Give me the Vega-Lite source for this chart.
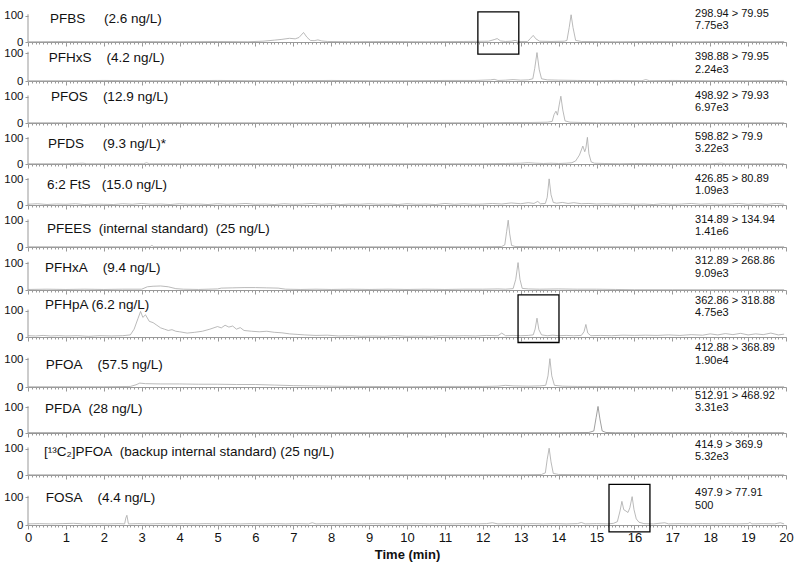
{
"$schema": "https://vega.github.io/schema/vega-lite/v6.json",
"padding": {"left": 3, "top": 5, "right": 3, "bottom": 5},
"bounds": "flush",
"spacing": 0,
"config": {
 "font": "Liberation Sans",
 "view": {"stroke": null, "continuousWidth": 758},
 "axisX": {"tickCount": 200, "grid": false, "domainColor": "#999", "tickColor": "#999", "tickSize": {"condition": {"test": "datum.value % 1 === 0", "value": 4}, "value": 2}, "labelExpr": "datum.value % 1 === 0 ? '' + datum.value : ''", "labelOverlap": false, "labelFlush": false, "labelFontSize": 13, "labelColor": "#111", "labelPadding": 2, "titleFontSize": 13, "titleFontWeight": "bold", "titleColor": "#111", "titlePadding": 4},
 "axisY": {"grid": false, "domain": false, "tickColor": "#999", "tickSize": {"condition": {"test": "datum.value === 0 || datum.value === 100", "value": 3}, "value": 2}, "labelExpr": "datum.value === 0 || datum.value === 100 ? datum.label : ''", "labelOverlap": false, "labelFontSize": 11.5, "labelColor": "#111", "labelPadding": 2}
},
"datasets": {
"pn": [
 {"p":1,"name":"PFBS\u00a0\u00a0\u00a0\u00a0\u00a0(2.6 ng/L)","mrm":"298.94 > 79.95","int":"7.75e3"},
 {"p":2,"name":"PFHxS\u00a0\u00a0\u00a0\u00a0(4.2 ng/L)","mrm":"398.88 > 79.95","int":"2.24e3"},
 {"p":3,"name":"PFOS\u00a0\u00a0\u00a0\u00a0(12.9 ng/L)","mrm":"498.92 > 79.93","int":"6.97e3"},
 {"p":4,"name":"PFDS\u00a0\u00a0\u00a0\u00a0\u00a0(9.3 ng/L)*","mrm":"598.82 > 79.9","int":"3.22e3"},
 {"p":5,"name":"6:2 FtS\u00a0\u00a0\u00a0(15.0 ng/L)","mrm":"426.85 > 80.89","int":"1.09e3"},
 {"p":6,"name":"PFEES\u00a0\u00a0(internal standard)\u00a0\u00a0(25 ng/L)","mrm":"314.89 > 134.94","int":"1.41e6"},
 {"p":7,"name":"PFHxA\u00a0\u00a0\u00a0\u00a0(9.4 ng/L)","mrm":"312.89 > 268.86","int":"9.09e3"},
 {"p":8,"name":"PFHpA (6.2 ng/L)","mrm":"362.86 > 318.88","int":"4.75e3"},
 {"p":9,"name":"PFOA\u00a0\u00a0\u00a0\u00a0(57.5 ng/L)","mrm":"412.88 > 368.89","int":"1.90e4"},
 {"p":10,"name":"PFDA\u00a0\u00a0(28 ng/L)","mrm":"512.91 > 468.92","int":"3.31e3"},
 {"p":11,"name":"[\u00b9\u00b3C\u2082]PFOA\u00a0\u00a0(backup internal standard) (25 ng/L)","mrm":"414.9 > 369.9","int":"5.32e3"},
 {"p":12,"name":"FOSA\u00a0\u00a0\u00a0\u00a0(4.4 ng/L)","mrm":"497.9 > 77.91","int":"500"}
],
"tr": [
{"p":1,"t":0,"y":1},{"p":1,"t":1,"y":2},{"p":1,"t":2,"y":1},{"p":1,"t":3,"y":2},{"p":1,"t":4,"y":1},{"p":1,"t":5,"y":2},{"p":1,"t":5.8,"y":1},{"p":1,"t":6.2,"y":3},{"p":1,"t":6.5,"y":7},{"p":1,"t":6.7,"y":10},{"p":1,"t":6.9,"y":14},{"p":1,"t":7.05,"y":12},{"p":1,"t":7.15,"y":17},{"p":1,"t":7.27,"y":36},{"p":1,"t":7.36,"y":18},{"p":1,"t":7.45,"y":6},{"p":1,"t":7.55,"y":5},{"p":1,"t":7.65,"y":8},{"p":1,"t":7.75,"y":4},{"p":1,"t":7.9,"y":2},{"p":1,"t":8.5,"y":1},{"p":1,"t":9.5,"y":2},{"p":1,"t":10.5,"y":1},{"p":1,"t":11.5,"y":2},{"p":1,"t":12.15,"y":3},{"p":1,"t":12.3,"y":9},{"p":1,"t":12.38,"y":13},{"p":1,"t":12.47,"y":4},{"p":1,"t":12.6,"y":2},{"p":1,"t":12.75,"y":3},{"p":1,"t":12.85,"y":6},{"p":1,"t":12.95,"y":2},{"p":1,"t":13.18,"y":2},{"p":1,"t":13.26,"y":14},{"p":1,"t":13.33,"y":25},{"p":1,"t":13.4,"y":12},{"p":1,"t":13.5,"y":3},{"p":1,"t":13.8,"y":2},{"p":1,"t":14.15,"y":3},{"p":1,"t":14.22,"y":6},{"p":1,"t":14.28,"y":55},{"p":1,"t":14.33,"y":103},{"p":1,"t":14.38,"y":55},{"p":1,"t":14.45,"y":6},{"p":1,"t":14.6,"y":2},{"p":1,"t":15.5,"y":1},{"p":1,"t":16.5,"y":2},{"p":1,"t":17.5,"y":1},{"p":1,"t":18.5,"y":2},{"p":1,"t":19.5,"y":1},{"p":1,"t":19.95,"y":2},
{"p":2,"t":0,"y":1},{"p":2,"t":1,"y":1},{"p":2,"t":2,"y":2},{"p":2,"t":3,"y":1},{"p":2,"t":4,"y":1},{"p":2,"t":5,"y":2},{"p":2,"t":6,"y":1},{"p":2,"t":7,"y":1},{"p":2,"t":8,"y":2},{"p":2,"t":9,"y":1},{"p":2,"t":10,"y":1},{"p":2,"t":11,"y":2},{"p":2,"t":11.8,"y":2},{"p":2,"t":12.2,"y":4},{"p":2,"t":12.3,"y":6},{"p":2,"t":12.4,"y":2},{"p":2,"t":12.6,"y":3},{"p":2,"t":12.8,"y":5},{"p":2,"t":13,"y":3},{"p":2,"t":13.2,"y":4},{"p":2,"t":13.32,"y":8},{"p":2,"t":13.37,"y":45},{"p":2,"t":13.43,"y":102},{"p":2,"t":13.49,"y":40},{"p":2,"t":13.55,"y":8},{"p":2,"t":13.7,"y":4},{"p":2,"t":14,"y":3},{"p":2,"t":14.5,"y":2},{"p":2,"t":15,"y":1},{"p":2,"t":15.5,"y":2},{"p":2,"t":16.2,"y":1},{"p":2,"t":16.3,"y":5},{"p":2,"t":16.4,"y":1},{"p":2,"t":17,"y":2},{"p":2,"t":18,"y":1},{"p":2,"t":19,"y":1},{"p":2,"t":19.95,"y":2},
{"p":3,"t":0,"y":1},{"p":3,"t":1,"y":1},{"p":3,"t":2,"y":1},{"p":3,"t":3,"y":1},{"p":3,"t":4,"y":2},{"p":3,"t":5,"y":1},{"p":3,"t":6,"y":1},{"p":3,"t":7,"y":1},{"p":3,"t":8,"y":1},{"p":3,"t":9,"y":2},{"p":3,"t":10,"y":1},{"p":3,"t":11,"y":1},{"p":3,"t":12,"y":1},{"p":3,"t":12.8,"y":2},{"p":3,"t":13.3,"y":2},{"p":3,"t":13.7,"y":3},{"p":3,"t":13.83,"y":6},{"p":3,"t":13.88,"y":32},{"p":3,"t":13.93,"y":45},{"p":3,"t":13.97,"y":30},{"p":3,"t":14.02,"y":72},{"p":3,"t":14.06,"y":102},{"p":3,"t":14.11,"y":50},{"p":3,"t":14.17,"y":8},{"p":3,"t":14.3,"y":3},{"p":3,"t":14.6,"y":2},{"p":3,"t":15,"y":1},{"p":3,"t":16,"y":1},{"p":3,"t":17,"y":2},{"p":3,"t":18,"y":1},{"p":3,"t":19,"y":1},{"p":3,"t":19.95,"y":1},
{"p":4,"t":0,"y":1},{"p":4,"t":1,"y":1},{"p":4,"t":1.45,"y":3},{"p":4,"t":1.55,"y":1},{"p":4,"t":2,"y":1},{"p":4,"t":3.05,"y":1},{"p":4,"t":3.13,"y":5},{"p":4,"t":3.2,"y":1},{"p":4,"t":4,"y":1},{"p":4,"t":5,"y":1},{"p":4,"t":6,"y":1},{"p":4,"t":7,"y":1},{"p":4,"t":8,"y":1},{"p":4,"t":9,"y":1},{"p":4,"t":10,"y":1},{"p":4,"t":11,"y":1},{"p":4,"t":12,"y":1},{"p":4,"t":12.6,"y":2},{"p":4,"t":13,"y":3},{"p":4,"t":13.2,"y":5},{"p":4,"t":13.4,"y":3},{"p":4,"t":13.6,"y":2},{"p":4,"t":13.8,"y":3},{"p":4,"t":14,"y":2},{"p":4,"t":14.2,"y":3},{"p":4,"t":14.35,"y":5},{"p":4,"t":14.45,"y":12},{"p":4,"t":14.55,"y":35},{"p":4,"t":14.64,"y":70},{"p":4,"t":14.69,"y":48},{"p":4,"t":14.72,"y":62},{"p":4,"t":14.76,"y":104},{"p":4,"t":14.8,"y":40},{"p":4,"t":14.86,"y":8},{"p":4,"t":14.95,"y":3},{"p":4,"t":15.2,"y":2},{"p":4,"t":15.6,"y":1},{"p":4,"t":16,"y":2},{"p":4,"t":17,"y":1},{"p":4,"t":18,"y":1},{"p":4,"t":18.3,"y":3},{"p":4,"t":18.4,"y":1},{"p":4,"t":19,"y":1},{"p":4,"t":19.95,"y":1},
{"p":5,"t":0,"y":3},{"p":5,"t":0.25,"y":5},{"p":5,"t":0.5,"y":2},{"p":5,"t":0.75,"y":4},{"p":5,"t":1,"y":3},{"p":5,"t":1.25,"y":5},{"p":5,"t":1.5,"y":2},{"p":5,"t":1.75,"y":4},{"p":5,"t":2,"y":3},{"p":5,"t":2.25,"y":2},{"p":5,"t":2.5,"y":5},{"p":5,"t":2.75,"y":3},{"p":5,"t":3,"y":6},{"p":5,"t":3.25,"y":3},{"p":5,"t":3.5,"y":4},{"p":5,"t":3.75,"y":2},{"p":5,"t":4,"y":5},{"p":5,"t":4.25,"y":3},{"p":5,"t":4.5,"y":4},{"p":5,"t":4.75,"y":2},{"p":5,"t":5,"y":5},{"p":5,"t":5.25,"y":3},{"p":5,"t":5.5,"y":4},{"p":5,"t":5.75,"y":6},{"p":5,"t":6,"y":3},{"p":5,"t":6.25,"y":4},{"p":5,"t":6.5,"y":2},{"p":5,"t":6.75,"y":5},{"p":5,"t":7,"y":3},{"p":5,"t":7.25,"y":4},{"p":5,"t":7.5,"y":6},{"p":5,"t":7.75,"y":3},{"p":5,"t":8,"y":5},{"p":5,"t":8.25,"y":2},{"p":5,"t":8.5,"y":4},{"p":5,"t":8.75,"y":3},{"p":5,"t":9,"y":5},{"p":5,"t":9.25,"y":3},{"p":5,"t":9.5,"y":4},{"p":5,"t":9.75,"y":2},{"p":5,"t":10,"y":5},{"p":5,"t":10.25,"y":3},{"p":5,"t":10.5,"y":4},{"p":5,"t":10.75,"y":2},{"p":5,"t":11,"y":6},{"p":5,"t":11.25,"y":3},{"p":5,"t":11.5,"y":5},{"p":5,"t":11.75,"y":3},{"p":5,"t":12,"y":4},{"p":5,"t":12.25,"y":6},{"p":5,"t":12.5,"y":4},{"p":5,"t":12.75,"y":8},{"p":5,"t":13,"y":5},{"p":5,"t":13.2,"y":9},{"p":5,"t":13.35,"y":6},{"p":5,"t":13.45,"y":14},{"p":5,"t":13.52,"y":5},{"p":5,"t":13.65,"y":6},{"p":5,"t":13.7,"y":30},{"p":5,"t":13.75,"y":102},{"p":5,"t":13.8,"y":40},{"p":5,"t":13.86,"y":10},{"p":5,"t":13.95,"y":7},{"p":5,"t":14.1,"y":10},{"p":5,"t":14.25,"y":6},{"p":5,"t":14.4,"y":9},{"p":5,"t":14.6,"y":5},{"p":5,"t":14.8,"y":6},{"p":5,"t":15,"y":4},{"p":5,"t":15.25,"y":5},{"p":5,"t":15.5,"y":3},{"p":5,"t":15.75,"y":5},{"p":5,"t":16,"y":3},{"p":5,"t":16.25,"y":4},{"p":5,"t":16.5,"y":2},{"p":5,"t":16.75,"y":5},{"p":5,"t":17,"y":3},{"p":5,"t":17.25,"y":4},{"p":5,"t":17.5,"y":6},{"p":5,"t":17.75,"y":3},{"p":5,"t":18,"y":5},{"p":5,"t":18.25,"y":3},{"p":5,"t":18.5,"y":4},{"p":5,"t":18.75,"y":6},{"p":5,"t":19,"y":3},{"p":5,"t":19.25,"y":5},{"p":5,"t":19.5,"y":3},{"p":5,"t":19.75,"y":6},{"p":5,"t":19.95,"y":3},
{"p":6,"t":0,"y":1},{"p":6,"t":1,"y":1},{"p":6,"t":2,"y":1},{"p":6,"t":3,"y":1},{"p":6,"t":3.22,"y":1},{"p":6,"t":3.27,"y":6},{"p":6,"t":3.32,"y":1},{"p":6,"t":4,"y":1},{"p":6,"t":5,"y":1},{"p":6,"t":6,"y":1},{"p":6,"t":7,"y":1},{"p":6,"t":8,"y":1},{"p":6,"t":9,"y":1},{"p":6,"t":10,"y":1},{"p":6,"t":11,"y":1},{"p":6,"t":12,"y":1},{"p":6,"t":12.5,"y":2},{"p":6,"t":12.58,"y":8},{"p":6,"t":12.63,"y":60},{"p":6,"t":12.67,"y":102},{"p":6,"t":12.71,"y":50},{"p":6,"t":12.76,"y":6},{"p":6,"t":12.85,"y":2},{"p":6,"t":13.5,"y":1},{"p":6,"t":14,"y":1},{"p":6,"t":15,"y":1},{"p":6,"t":16,"y":1},{"p":6,"t":17,"y":1},{"p":6,"t":18,"y":1},{"p":6,"t":19,"y":1},{"p":6,"t":19.95,"y":1},
{"p":7,"t":0,"y":2},{"p":7,"t":0.5,"y":3},{"p":7,"t":1,"y":2},{"p":7,"t":1.5,"y":3},{"p":7,"t":2,"y":2},{"p":7,"t":2.5,"y":3},{"p":7,"t":3,"y":3},{"p":7,"t":3.15,"y":12},{"p":7,"t":3.3,"y":14},{"p":7,"t":3.5,"y":15},{"p":7,"t":3.7,"y":12},{"p":7,"t":3.9,"y":5},{"p":7,"t":4.1,"y":3},{"p":7,"t":4.5,"y":2},{"p":7,"t":5,"y":4},{"p":7,"t":5.1,"y":7},{"p":7,"t":5.4,"y":8},{"p":7,"t":5.7,"y":9},{"p":7,"t":6,"y":9},{"p":7,"t":6.3,"y":8},{"p":7,"t":6.6,"y":7},{"p":7,"t":6.8,"y":3},{"p":7,"t":7.2,"y":2},{"p":7,"t":7.6,"y":3},{"p":7,"t":8,"y":2},{"p":7,"t":8.5,"y":3},{"p":7,"t":9,"y":2},{"p":7,"t":9.5,"y":3},{"p":7,"t":10,"y":2},{"p":7,"t":10.5,"y":3},{"p":7,"t":11,"y":2},{"p":7,"t":11.5,"y":3},{"p":7,"t":12,"y":3},{"p":7,"t":12.4,"y":4},{"p":7,"t":12.6,"y":3},{"p":7,"t":12.8,"y":5},{"p":7,"t":12.87,"y":40},{"p":7,"t":12.93,"y":102},{"p":7,"t":12.98,"y":40},{"p":7,"t":13.04,"y":6},{"p":7,"t":13.2,"y":4},{"p":7,"t":13.5,"y":3},{"p":7,"t":14,"y":4},{"p":7,"t":14.5,"y":3},{"p":7,"t":15,"y":3},{"p":7,"t":15.5,"y":2},{"p":7,"t":16,"y":1},{"p":7,"t":17,"y":1},{"p":7,"t":18,"y":1},{"p":7,"t":19,"y":1},{"p":7,"t":19.95,"y":1},
{"p":8,"t":0,"y":5},{"p":8,"t":0.2,"y":4},{"p":8,"t":0.4,"y":6},{"p":8,"t":0.6,"y":4},{"p":8,"t":0.8,"y":5},{"p":8,"t":1,"y":4},{"p":8,"t":1.3,"y":5},{"p":8,"t":1.6,"y":3},{"p":8,"t":1.9,"y":5},{"p":8,"t":2.2,"y":4},{"p":8,"t":2.5,"y":5},{"p":8,"t":2.7,"y":8},{"p":8,"t":2.8,"y":30},{"p":8,"t":2.9,"y":70},{"p":8,"t":2.97,"y":98},{"p":8,"t":3.03,"y":75},{"p":8,"t":3.1,"y":85},{"p":8,"t":3.2,"y":60},{"p":8,"t":3.3,"y":55},{"p":8,"t":3.4,"y":45},{"p":8,"t":3.5,"y":35},{"p":8,"t":3.6,"y":30},{"p":8,"t":3.7,"y":25},{"p":8,"t":3.8,"y":28},{"p":8,"t":3.9,"y":22},{"p":8,"t":4,"y":20},{"p":8,"t":4.2,"y":15},{"p":8,"t":4.4,"y":18},{"p":8,"t":4.6,"y":22},{"p":8,"t":4.8,"y":30},{"p":8,"t":5,"y":40},{"p":8,"t":5.1,"y":35},{"p":8,"t":5.2,"y":45},{"p":8,"t":5.3,"y":38},{"p":8,"t":5.4,"y":42},{"p":8,"t":5.5,"y":30},{"p":8,"t":5.6,"y":36},{"p":8,"t":5.7,"y":25},{"p":8,"t":5.9,"y":22},{"p":8,"t":6.1,"y":20},{"p":8,"t":6.3,"y":22},{"p":8,"t":6.5,"y":18},{"p":8,"t":6.7,"y":16},{"p":8,"t":6.9,"y":12},{"p":8,"t":7.1,"y":10},{"p":8,"t":7.3,"y":8},{"p":8,"t":7.6,"y":6},{"p":8,"t":7.9,"y":7},{"p":8,"t":8.2,"y":4},{"p":8,"t":8.5,"y":5},{"p":8,"t":8.8,"y":3},{"p":8,"t":9.1,"y":4},{"p":8,"t":9.4,"y":3},{"p":8,"t":9.7,"y":5},{"p":8,"t":10,"y":3},{"p":8,"t":10.3,"y":4},{"p":8,"t":10.6,"y":3},{"p":8,"t":10.9,"y":5},{"p":8,"t":11.2,"y":4},{"p":8,"t":11.5,"y":5},{"p":8,"t":11.8,"y":4},{"p":8,"t":12.1,"y":6},{"p":8,"t":12.4,"y":5},{"p":8,"t":12.5,"y":15},{"p":8,"t":12.6,"y":5},{"p":8,"t":12.8,"y":6},{"p":8,"t":13,"y":5},{"p":8,"t":13.2,"y":6},{"p":8,"t":13.33,"y":8},{"p":8,"t":13.38,"y":30},{"p":8,"t":13.43,"y":72},{"p":8,"t":13.48,"y":28},{"p":8,"t":13.55,"y":8},{"p":8,"t":13.7,"y":5},{"p":8,"t":13.85,"y":7},{"p":8,"t":14,"y":5},{"p":8,"t":14.2,"y":6},{"p":8,"t":14.4,"y":5},{"p":8,"t":14.6,"y":6},{"p":8,"t":14.67,"y":20},{"p":8,"t":14.72,"y":48},{"p":8,"t":14.77,"y":15},{"p":8,"t":14.85,"y":5},{"p":8,"t":15.1,"y":6},{"p":8,"t":15.4,"y":5},{"p":8,"t":15.7,"y":7},{"p":8,"t":16,"y":6},{"p":8,"t":16.3,"y":7},{"p":8,"t":16.6,"y":6},{"p":8,"t":16.9,"y":8},{"p":8,"t":17.2,"y":6},{"p":8,"t":17.5,"y":9},{"p":8,"t":17.8,"y":7},{"p":8,"t":18,"y":12},{"p":8,"t":18.2,"y":8},{"p":8,"t":18.4,"y":13},{"p":8,"t":18.6,"y":9},{"p":8,"t":18.8,"y":14},{"p":8,"t":19,"y":8},{"p":8,"t":19.2,"y":12},{"p":8,"t":19.4,"y":9},{"p":8,"t":19.6,"y":15},{"p":8,"t":19.8,"y":8},{"p":8,"t":19.95,"y":11},
{"p":9,"t":0,"y":1},{"p":9,"t":1,"y":1},{"p":9,"t":2,"y":1},{"p":9,"t":2.7,"y":2},{"p":9,"t":2.85,"y":8},{"p":9,"t":2.95,"y":14},{"p":9,"t":3.1,"y":12},{"p":9,"t":3.5,"y":11},{"p":9,"t":4,"y":11},{"p":9,"t":4.5,"y":10},{"p":9,"t":5,"y":10},{"p":9,"t":5.5,"y":9},{"p":9,"t":6,"y":9},{"p":9,"t":6.5,"y":7},{"p":9,"t":7,"y":5},{"p":9,"t":7.5,"y":4},{"p":9,"t":8,"y":3},{"p":9,"t":8.5,"y":2},{"p":9,"t":9,"y":2},{"p":9,"t":10,"y":1},{"p":9,"t":11,"y":2},{"p":9,"t":12,"y":2},{"p":9,"t":12.4,"y":3},{"p":9,"t":12.6,"y":6},{"p":9,"t":12.8,"y":4},{"p":9,"t":13.2,"y":3},{"p":9,"t":13.5,"y":4},{"p":9,"t":13.66,"y":6},{"p":9,"t":13.72,"y":40},{"p":9,"t":13.77,"y":102},{"p":9,"t":13.82,"y":40},{"p":9,"t":13.89,"y":6},{"p":9,"t":14.1,"y":3},{"p":9,"t":14.5,"y":2},{"p":9,"t":15,"y":2},{"p":9,"t":16,"y":1},{"p":9,"t":17,"y":1},{"p":9,"t":18,"y":1},{"p":9,"t":19,"y":1},{"p":9,"t":19.95,"y":1},
{"p":10,"t":0,"y":1},{"p":10,"t":1,"y":1},{"p":10,"t":2,"y":1},{"p":10,"t":3,"y":1},{"p":10,"t":4,"y":1},{"p":10,"t":5,"y":1},{"p":10,"t":6,"y":1},{"p":10,"t":7,"y":1},{"p":10,"t":8,"y":1},{"p":10,"t":9,"y":1},{"p":10,"t":10,"y":1},{"p":10,"t":11,"y":1},{"p":10,"t":12,"y":1},{"p":10,"t":13,"y":1},{"p":10,"t":14,"y":1},{"p":10,"t":14.8,"y":2},{"p":10,"t":14.93,"y":8},{"p":10,"t":14.99,"y":60},{"p":10,"t":15.04,"y":104},{"p":10,"t":15.09,"y":55},{"p":10,"t":15.15,"y":8},{"p":10,"t":15.25,"y":2},{"p":10,"t":15.5,"y":1},{"p":10,"t":16,"y":1},{"p":10,"t":17,"y":1},{"p":10,"t":18,"y":1},{"p":10,"t":18.52,"y":1},{"p":10,"t":18.57,"y":4},{"p":10,"t":18.62,"y":1},{"p":10,"t":19,"y":1},{"p":10,"t":19.95,"y":1},
{"p":11,"t":0,"y":1},{"p":11,"t":1,"y":1},{"p":11,"t":2,"y":1},{"p":11,"t":3,"y":1},{"p":11,"t":4,"y":1},{"p":11,"t":5,"y":1},{"p":11,"t":6,"y":1},{"p":11,"t":7,"y":1},{"p":11,"t":8,"y":1},{"p":11,"t":9,"y":1},{"p":11,"t":10,"y":1},{"p":11,"t":11,"y":1},{"p":11,"t":12,"y":1},{"p":11,"t":13,"y":1},{"p":11,"t":13.55,"y":2},{"p":11,"t":13.65,"y":8},{"p":11,"t":13.7,"y":60},{"p":11,"t":13.75,"y":102},{"p":11,"t":13.8,"y":50},{"p":11,"t":13.86,"y":6},{"p":11,"t":14,"y":2},{"p":11,"t":15,"y":1},{"p":11,"t":16,"y":1},{"p":11,"t":17,"y":1},{"p":11,"t":18,"y":1},{"p":11,"t":19,"y":1},{"p":11,"t":19.95,"y":1},
{"p":12,"t":0,"y":4},{"p":12,"t":0.3,"y":5},{"p":12,"t":0.6,"y":4},{"p":12,"t":0.9,"y":5},{"p":12,"t":1.2,"y":6},{"p":12,"t":1.5,"y":4},{"p":12,"t":1.8,"y":5},{"p":12,"t":2.1,"y":4},{"p":12,"t":2.4,"y":5},{"p":12,"t":2.55,"y":4},{"p":12,"t":2.58,"y":25},{"p":12,"t":2.61,"y":35},{"p":12,"t":2.65,"y":4},{"p":12,"t":2.9,"y":5},{"p":12,"t":3.2,"y":4},{"p":12,"t":3.5,"y":5},{"p":12,"t":3.8,"y":4},{"p":12,"t":4.1,"y":5},{"p":12,"t":4.4,"y":4},{"p":12,"t":4.7,"y":5},{"p":12,"t":5,"y":4},{"p":12,"t":5.3,"y":5},{"p":12,"t":5.6,"y":4},{"p":12,"t":5.9,"y":5},{"p":12,"t":6.2,"y":4},{"p":12,"t":6.5,"y":5},{"p":12,"t":6.8,"y":4},{"p":12,"t":7.1,"y":5},{"p":12,"t":7.4,"y":4},{"p":12,"t":7.5,"y":8},{"p":12,"t":7.6,"y":4},{"p":12,"t":7.9,"y":5},{"p":12,"t":8.2,"y":4},{"p":12,"t":8.5,"y":5},{"p":12,"t":8.8,"y":4},{"p":12,"t":9.1,"y":5},{"p":12,"t":9.4,"y":4},{"p":12,"t":9.7,"y":5},{"p":12,"t":10,"y":4},{"p":12,"t":10.3,"y":5},{"p":12,"t":10.6,"y":4},{"p":12,"t":10.9,"y":5},{"p":12,"t":11.2,"y":4},{"p":12,"t":11.5,"y":5},{"p":12,"t":11.8,"y":4},{"p":12,"t":12.1,"y":5},{"p":12,"t":12.25,"y":8},{"p":12,"t":12.4,"y":4},{"p":12,"t":12.7,"y":5},{"p":12,"t":13,"y":4},{"p":12,"t":13.3,"y":5},{"p":12,"t":13.6,"y":4},{"p":12,"t":13.9,"y":5},{"p":12,"t":14.2,"y":4},{"p":12,"t":14.5,"y":5},{"p":12,"t":14.6,"y":9},{"p":12,"t":14.7,"y":4},{"p":12,"t":15,"y":5},{"p":12,"t":15.3,"y":4},{"p":12,"t":15.45,"y":6},{"p":12,"t":15.55,"y":12},{"p":12,"t":15.62,"y":50},{"p":12,"t":15.67,"y":85},{"p":12,"t":15.72,"y":55},{"p":12,"t":15.78,"y":50},{"p":12,"t":15.83,"y":45},{"p":12,"t":15.88,"y":62},{"p":12,"t":15.94,"y":102},{"p":12,"t":15.99,"y":55},{"p":12,"t":16.05,"y":22},{"p":12,"t":16.12,"y":10},{"p":12,"t":16.25,"y":5},{"p":12,"t":16.5,"y":4},{"p":12,"t":16.8,"y":8},{"p":12,"t":16.9,"y":4},{"p":12,"t":17.2,"y":5},{"p":12,"t":17.5,"y":4},{"p":12,"t":17.8,"y":5},{"p":12,"t":18.1,"y":4},{"p":12,"t":18.4,"y":5},{"p":12,"t":18.7,"y":4},{"p":12,"t":19,"y":5},{"p":12,"t":19.05,"y":9},{"p":12,"t":19.1,"y":4},{"p":12,"t":19.4,"y":5},{"p":12,"t":19.7,"y":4},{"p":12,"t":19.85,"y":8},{"p":12,"t":19.95,"y":4}
]
},
"vconcat": [
{"height":37,"layer":[
 {"data":{"name":"tr"},"transform":[{"filter":"datum.p==1"}],"mark":{"type":"line","color":"#a8a8a8","strokeWidth":0.8},"encoding":{"x":{"field":"t","type":"quantitative","scale":{"domain":[0,20]},"axis":{"labels":false,"title":null}},"y":{"field":"y","type":"quantitative","scale":{"domain":[0,132]},"axis":{"values":[0,10,20,30,40,50,60,70,80,90,100],"title":null}}}},
 {"data":{"name":"pn"},"transform":[{"filter":"datum.p==1"}],"layer":[
  {"mark":{"type":"rule","color":"#999"},"encoding":{"x":{"datum":0},"y":{"datum":0},"y2":{"datum":105}}},
  {"mark":{"type":"text","align":"left","fontSize":13.5,"color":"#111"},"encoding":{"x":{"datum":0.58},"y":{"datum":86},"text":{"field":"name"}}},
  {"mark":{"type":"text","align":"left","fontSize":11,"color":"#111"},"encoding":{"x":{"datum":17.6},"y":{"datum":107},"text":{"field":"mrm"}}},
  {"mark":{"type":"text","align":"left","fontSize":11,"color":"#111"},"encoding":{"x":{"datum":17.6},"y":{"datum":61},"text":{"field":"int"}}},
  {"mark":{"type":"rect","filled":false,"color":"#000","strokeWidth":1.3},"encoding":{"x":{"datum":11.87},"x2":{"datum":12.95},"y":{"datum":114},"y2":{"datum":-46}}}
 ]}
]},
{"height":39,"layer":[
 {"data":{"name":"tr"},"transform":[{"filter":"datum.p==2"}],"mark":{"type":"line","color":"#a8a8a8","strokeWidth":0.8},"encoding":{"x":{"field":"t","type":"quantitative","scale":{"domain":[0,20]},"axis":{"labels":false,"title":null}},"y":{"field":"y","type":"quantitative","scale":{"domain":[0,139]},"axis":{"values":[0,10,20,30,40,50,60,70,80,90,100],"title":null}}}},
 {"data":{"name":"pn"},"transform":[{"filter":"datum.p==2"}],"layer":[
  {"mark":{"type":"rule","color":"#999"},"encoding":{"x":{"datum":0},"y":{"datum":0},"y2":{"datum":105}}},
  {"mark":{"type":"text","align":"left","fontSize":13.5,"color":"#111"},"encoding":{"x":{"datum":0.55},"y":{"datum":82},"text":{"field":"name"}}},
  {"mark":{"type":"text","align":"left","fontSize":11,"color":"#111"},"encoding":{"x":{"datum":17.6},"y":{"datum":86},"text":{"field":"mrm"}}},
  {"mark":{"type":"text","align":"left","fontSize":11,"color":"#111"},"encoding":{"x":{"datum":17.6},"y":{"datum":40},"text":{"field":"int"}}}
 ]}
]},
{"height":42,"layer":[
 {"data":{"name":"tr"},"transform":[{"filter":"datum.p==3"}],"mark":{"type":"line","color":"#a8a8a8","strokeWidth":0.8},"encoding":{"x":{"field":"t","type":"quantitative","scale":{"domain":[0,20]},"axis":{"labels":false,"title":null}},"y":{"field":"y","type":"quantitative","scale":{"domain":[0,150]},"axis":{"values":[0,10,20,30,40,50,60,70,80,90,100],"title":null}}}},
 {"data":{"name":"pn"},"transform":[{"filter":"datum.p==3"}],"layer":[
  {"mark":{"type":"rule","color":"#999"},"encoding":{"x":{"datum":0},"y":{"datum":0},"y2":{"datum":105}}},
  {"mark":{"type":"text","align":"left","fontSize":13.5,"color":"#111"},"encoding":{"x":{"datum":0.61},"y":{"datum":100},"text":{"field":"name"}}},
  {"mark":{"type":"text","align":"left","fontSize":11,"color":"#111"},"encoding":{"x":{"datum":17.6},"y":{"datum":104},"text":{"field":"mrm"}}},
  {"mark":{"type":"text","align":"left","fontSize":11,"color":"#111"},"encoding":{"x":{"datum":17.6},"y":{"datum":58},"text":{"field":"int"}}}
 ]}
]},
{"height":41,"layer":[
 {"data":{"name":"tr"},"transform":[{"filter":"datum.p==4"}],"mark":{"type":"line","color":"#a8a8a8","strokeWidth":0.8},"encoding":{"x":{"field":"t","type":"quantitative","scale":{"domain":[0,20]},"axis":{"labels":false,"title":null}},"y":{"field":"y","type":"quantitative","scale":{"domain":[0,146]},"axis":{"values":[0,10,20,30,40,50,60,70,80,90,100],"title":null}}}},
 {"data":{"name":"pn"},"transform":[{"filter":"datum.p==4"}],"layer":[
  {"mark":{"type":"rule","color":"#999"},"encoding":{"x":{"datum":0},"y":{"datum":0},"y2":{"datum":105}}},
  {"mark":{"type":"text","align":"left","fontSize":13.5,"color":"#111"},"encoding":{"x":{"datum":0.53},"y":{"datum":80},"text":{"field":"name"}}},
  {"mark":{"type":"text","align":"left","fontSize":11,"color":"#111"},"encoding":{"x":{"datum":17.6},"y":{"datum":104},"text":{"field":"mrm"}}},
  {"mark":{"type":"text","align":"left","fontSize":11,"color":"#111"},"encoding":{"x":{"datum":17.6},"y":{"datum":58},"text":{"field":"int"}}}
 ]}
]},
{"height":41,"layer":[
 {"data":{"name":"tr"},"transform":[{"filter":"datum.p==5"}],"mark":{"type":"line","color":"#a8a8a8","strokeWidth":0.8},"encoding":{"x":{"field":"t","type":"quantitative","scale":{"domain":[0,20]},"axis":{"labels":false,"title":null}},"y":{"field":"y","type":"quantitative","scale":{"domain":[0,146]},"axis":{"values":[0,10,20,30,40,50,60,70,80,90,100],"title":null}}}},
 {"data":{"name":"pn"},"transform":[{"filter":"datum.p==5"}],"layer":[
  {"mark":{"type":"rule","color":"#999"},"encoding":{"x":{"datum":0},"y":{"datum":0},"y2":{"datum":105}}},
  {"mark":{"type":"text","align":"left","fontSize":13.5,"color":"#111"},"encoding":{"x":{"datum":0.5},"y":{"datum":78},"text":{"field":"name"}}},
  {"mark":{"type":"text","align":"left","fontSize":11,"color":"#111"},"encoding":{"x":{"datum":17.6},"y":{"datum":100},"text":{"field":"mrm"}}},
  {"mark":{"type":"text","align":"left","fontSize":11,"color":"#111"},"encoding":{"x":{"datum":17.6},"y":{"datum":54},"text":{"field":"int"}}}
 ]}
]},
{"height":42,"layer":[
 {"data":{"name":"tr"},"transform":[{"filter":"datum.p==6"}],"mark":{"type":"line","color":"#a8a8a8","strokeWidth":0.8},"encoding":{"x":{"field":"t","type":"quantitative","scale":{"domain":[0,20]},"axis":{"labels":false,"title":null}},"y":{"field":"y","type":"quantitative","scale":{"domain":[0,150]},"axis":{"values":[0,10,20,30,40,50,60,70,80,90,100],"title":null}}}},
 {"data":{"name":"pn"},"transform":[{"filter":"datum.p==6"}],"layer":[
  {"mark":{"type":"rule","color":"#999"},"encoding":{"x":{"datum":0},"y":{"datum":0},"y2":{"datum":105}}},
  {"mark":{"type":"text","align":"left","fontSize":13.5,"color":"#111"},"encoding":{"x":{"datum":0.5},"y":{"datum":68},"text":{"field":"name"}}},
  {"mark":{"type":"text","align":"left","fontSize":11,"color":"#111"},"encoding":{"x":{"datum":17.6},"y":{"datum":104},"text":{"field":"mrm"}}},
  {"mark":{"type":"text","align":"left","fontSize":11,"color":"#111"},"encoding":{"x":{"datum":17.6},"y":{"datum":58},"text":{"field":"int"}}}
 ]}
]},
{"height":43,"layer":[
 {"data":{"name":"tr"},"transform":[{"filter":"datum.p==7"}],"mark":{"type":"line","color":"#a8a8a8","strokeWidth":0.8},"encoding":{"x":{"field":"t","type":"quantitative","scale":{"domain":[0,20]},"axis":{"labels":false,"title":null}},"y":{"field":"y","type":"quantitative","scale":{"domain":[0,154]},"axis":{"values":[0,10,20,30,40,50,60,70,80,90,100],"title":null}}}},
 {"data":{"name":"pn"},"transform":[{"filter":"datum.p==7"}],"layer":[
  {"mark":{"type":"rule","color":"#999"},"encoding":{"x":{"datum":0},"y":{"datum":0},"y2":{"datum":105}}},
  {"mark":{"type":"text","align":"left","fontSize":13.5,"color":"#111"},"encoding":{"x":{"datum":0.45},"y":{"datum":82},"text":{"field":"name"}}},
  {"mark":{"type":"text","align":"left","fontSize":11,"color":"#111"},"encoding":{"x":{"datum":17.6},"y":{"datum":107},"text":{"field":"mrm"}}},
  {"mark":{"type":"text","align":"left","fontSize":11,"color":"#111"},"encoding":{"x":{"datum":17.6},"y":{"datum":61},"text":{"field":"int"}}}
 ]}
]},
{"height":47,"layer":[
 {"data":{"name":"tr"},"transform":[{"filter":"datum.p==8"}],"mark":{"type":"line","color":"#a8a8a8","strokeWidth":0.8},"encoding":{"x":{"field":"t","type":"quantitative","scale":{"domain":[0,20]},"axis":{"labels":false,"title":null}},"y":{"field":"y","type":"quantitative","scale":{"domain":[0,168]},"axis":{"values":[0,10,20,30,40,50,60,70,80,90,100],"title":null}}}},
 {"data":{"name":"pn"},"transform":[{"filter":"datum.p==8"}],"layer":[
  {"mark":{"type":"rule","color":"#999"},"encoding":{"x":{"datum":0},"y":{"datum":0},"y2":{"datum":105}}},
  {"mark":{"type":"text","align":"left","fontSize":13.5,"color":"#111"},"encoding":{"x":{"datum":0.45},"y":{"datum":121},"text":{"field":"name"}}},
  {"mark":{"type":"text","align":"left","fontSize":11,"color":"#111"},"encoding":{"x":{"datum":17.6},"y":{"datum":139},"text":{"field":"mrm"}}},
  {"mark":{"type":"text","align":"left","fontSize":11,"color":"#111"},"encoding":{"x":{"datum":17.6},"y":{"datum":93},"text":{"field":"int"}}},
  {"mark":{"type":"rect","filled":false,"color":"#000","strokeWidth":1.3},"encoding":{"x":{"datum":12.93},"x2":{"datum":14.01},"y":{"datum":161},"y2":{"datum":-21}}}
 ]}
]},
{"height":50,"layer":[
 {"data":{"name":"tr"},"transform":[{"filter":"datum.p==9"}],"mark":{"type":"line","color":"#a8a8a8","strokeWidth":0.8},"encoding":{"x":{"field":"t","type":"quantitative","scale":{"domain":[0,20]},"axis":{"labels":false,"title":null}},"y":{"field":"y","type":"quantitative","scale":{"domain":[0,179]},"axis":{"values":[0,10,20,30,40,50,60,70,80,90,100],"title":null}}}},
 {"data":{"name":"pn"},"transform":[{"filter":"datum.p==9"}],"layer":[
  {"mark":{"type":"rule","color":"#999"},"encoding":{"x":{"datum":0},"y":{"datum":0},"y2":{"datum":105}}},
  {"mark":{"type":"text","align":"left","fontSize":13.5,"color":"#111"},"encoding":{"x":{"datum":0.47},"y":{"datum":78},"text":{"field":"name"}}},
  {"mark":{"type":"text","align":"left","fontSize":11,"color":"#111"},"encoding":{"x":{"datum":17.6},"y":{"datum":139},"text":{"field":"mrm"}}},
  {"mark":{"type":"text","align":"left","fontSize":11,"color":"#111"},"encoding":{"x":{"datum":17.6},"y":{"datum":93},"text":{"field":"int"}}}
 ]}
]},
{"height":46,"layer":[
 {"data":{"name":"tr"},"transform":[{"filter":"datum.p==10"}],"mark":{"type":"line","color":"#888","strokeWidth":0.8},"encoding":{"x":{"field":"t","type":"quantitative","scale":{"domain":[0,20]},"axis":{"labels":false,"title":null}},"y":{"field":"y","type":"quantitative","scale":{"domain":[0,164]},"axis":{"values":[0,10,20,30,40,50,60,70,80,90,100],"title":null}}}},
 {"data":{"name":"pn"},"transform":[{"filter":"datum.p==10"}],"layer":[
  {"mark":{"type":"rule","color":"#999"},"encoding":{"x":{"datum":0},"y":{"datum":0},"y2":{"datum":105}}},
  {"mark":{"type":"text","align":"left","fontSize":13.5,"color":"#111"},"encoding":{"x":{"datum":0.45},"y":{"datum":93},"text":{"field":"name"}}},
  {"mark":{"type":"text","align":"left","fontSize":11,"color":"#111"},"encoding":{"x":{"datum":17.6},"y":{"datum":143},"text":{"field":"mrm"}}},
  {"mark":{"type":"text","align":"left","fontSize":11,"color":"#111"},"encoding":{"x":{"datum":17.6},"y":{"datum":97},"text":{"field":"int"}}}
 ]}
]},
{"height":42,"layer":[
 {"data":{"name":"tr"},"transform":[{"filter":"datum.p==11"}],"mark":{"type":"line","color":"#a8a8a8","strokeWidth":0.8},"encoding":{"x":{"field":"t","type":"quantitative","scale":{"domain":[0,20]},"axis":{"labels":false,"title":null}},"y":{"field":"y","type":"quantitative","scale":{"domain":[0,150]},"axis":{"values":[0,10,20,30,40,50,60,70,80,90,100],"title":null}}}},
 {"data":{"name":"pn"},"transform":[{"filter":"datum.p==11"}],"layer":[
  {"mark":{"type":"rule","color":"#999"},"encoding":{"x":{"datum":0},"y":{"datum":0},"y2":{"datum":105}}},
  {"mark":{"type":"text","align":"left","fontSize":13.5,"color":"#111"},"encoding":{"x":{"datum":0.42},"y":{"datum":89},"text":{"field":"name"}}},
  {"mark":{"type":"text","align":"left","fontSize":11,"color":"#111"},"encoding":{"x":{"datum":17.6},"y":{"datum":114},"text":{"field":"mrm"}}},
  {"mark":{"type":"text","align":"left","fontSize":11,"color":"#111"},"encoding":{"x":{"datum":17.6},"y":{"datum":68},"text":{"field":"int"}}}
 ]}
]},
{"height":50,"layer":[
 {"data":{"name":"tr"},"transform":[{"filter":"datum.p==12"}],"mark":{"type":"line","color":"#a8a8a8","strokeWidth":0.8},"encoding":{"x":{"field":"t","type":"quantitative","scale":{"domain":[0,20]},"axis":{"title":"Time (min)"}},"y":{"field":"y","type":"quantitative","scale":{"domain":[0,179]},"axis":{"values":[0,10,20,30,40,50,60,70,80,90,100],"title":null}}}},
 {"data":{"name":"pn"},"transform":[{"filter":"datum.p==12"}],"layer":[
  {"mark":{"type":"rule","color":"#999"},"encoding":{"x":{"datum":0},"y":{"datum":0},"y2":{"datum":105}}},
  {"mark":{"type":"text","align":"left","fontSize":13.5,"color":"#111"},"encoding":{"x":{"datum":0.47},"y":{"datum":96},"text":{"field":"name"}}},
  {"mark":{"type":"text","align":"left","fontSize":11,"color":"#111"},"encoding":{"x":{"datum":17.6},"y":{"datum":114},"text":{"field":"mrm"}}},
  {"mark":{"type":"text","align":"left","fontSize":11,"color":"#111"},"encoding":{"x":{"datum":17.6},"y":{"datum":68},"text":{"field":"int"}}},
  {"mark":{"type":"rect","filled":false,"color":"#000","strokeWidth":1.3},"encoding":{"x":{"datum":15.33},"x2":{"datum":16.41},"y":{"datum":146},"y2":{"datum":-25}}}
 ]}
]}
]
}
